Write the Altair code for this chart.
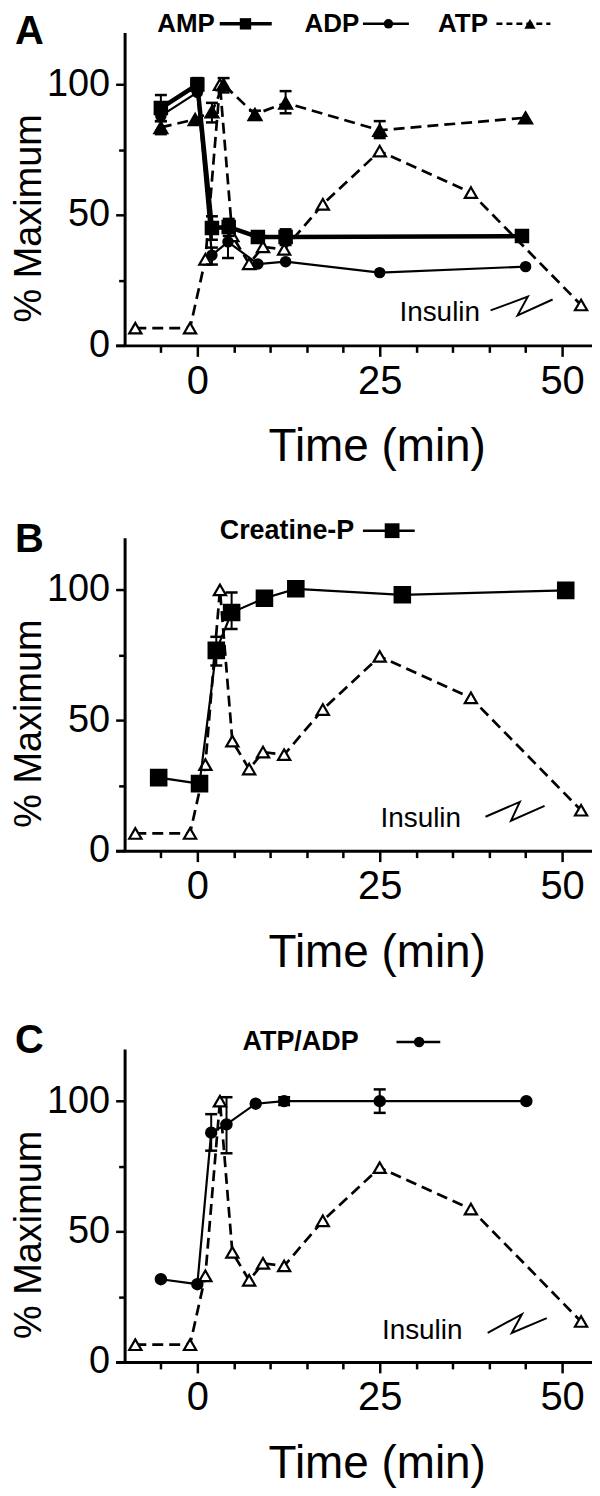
import altair as alt
import pandas as pd

FONT = "Liberation Sans"

# ---------------- data ----------------
# Insulin secretion (open triangles, dashed) - same trace in every panel
ins_t = [-8.5, -1.0, 1.1, 3.1, 4.8, 7.1, 9.0, 11.9, 17.2, 25.0, 37.5, 52.6]
ins_v = [6.6, 6.6, 33.0, 100.0, 42.0, 31.3, 37.8, 36.8, 54.1, 74.5, 58.6, 15.5]

# Panel A
amp_t = [-5.0, 0.0, 2.0, 4.3, 8.3, 12.1, 44.5]
amp_v = [91.0, 100.0, 45.0, 45.4, 41.6, 41.6, 41.9]
amp_err_t = [-5.0, 0.0, 2.0, 4.3, 12.1]
amp_lo = [86.0, 97.5, 40.5, 42.0, 38.5]
amp_hi = [96.0, 102.5, 49.5, 48.5, 44.5]

adp_t = [-5.0, 0.0, 2.0, 4.2, 8.3, 12.1, 25.0, 45.0]
adp_v = [88.0, 97.0, 34.6, 39.7, 31.2, 32.1, 27.9, 30.2]
adp_err_t = [2.0, 4.2]
adp_lo = [31.0, 33.5]
adp_hi = [37.5, 46.0]

atp_t = [-5.0, -0.3, 2.0, 3.6, 7.9, 12.1, 25.0, 45.0]
atp_v = [83.6, 86.7, 89.6, 100.0, 88.6, 93.0, 82.5, 87.3]
atp_err_t = [-5.0, 2.0, 3.6, 7.9, 12.1, 25.0]
atp_lo = [81.0, 85.5, 97.0, 86.5, 89.0, 79.5]
atp_hi = [86.0, 93.0, 102.5, 90.0, 97.5, 86.0]

# Panel B
cp_t = [-5.3, 0.3, 2.6, 4.7, 9.2, 13.5, 28.1, 50.5]
cp_v = [28.0, 25.7, 76.8, 91.3, 96.8, 100.4, 98.1, 99.8]
cp_err_t = [2.6, 4.7, 50.5]
cp_lo = [71.0, 85.0, 97.5]
cp_hi = [82.0, 99.0, 102.0]

# Panel C
ratio_t = [-5.0, 0.0, 1.9, 4.0, 8.0, 11.9, 25.0, 45.1]
ratio_v = [31.7, 29.8, 87.9, 91.1, 99.0, 100.0, 100.0, 100.0]
ratio_err_t = [1.9, 4.0, 11.9, 25.0]
ratio_lo = [81.0, 80.0, 98.5, 95.5]
ratio_hi = [95.0, 101.5, 101.5, 104.5]

# annotation texts / positions (data units)
panel_labels = ["A", "B", "C"]
panel_label_x = [-25.0, -25.0, -25.0]
panel_label_y = [120.0, 119.0, 123.0]

insulin_x = [27.7, 25.1, 25.3]
insulin_y = [9.2, 9.2, 8.8]
zig_A_t = [40.2, 45.3, 43.9, 48.7]
zig_A_v = [13.4, 18.7, 11.5, 17.6]
zig_B_t = [39.5, 44.2, 43.0, 47.6]
zig_B_v = [13.0, 18.7, 11.5, 17.2]
zig_C_t = [39.8, 44.5, 43.1, 47.9]
zig_C_v = [11.1, 18.3, 11.1, 16.8]

# ---------------- scales / axes ----------------
X_DOMAIN = [-11.2, 54.1]
Y_DOMAIN = [0, 120]
W, H = 478, 314

xs = alt.Scale(domain=X_DOMAIN, nice=False, zero=False)
ys = alt.Scale(domain=Y_DOMAIN, nice=False, zero=False)

xaxis = alt.Axis(
    title="Time (min)",
    values=list(range(-5, 55, 5)),
    labelExpr="datum.value % 25 === 0 ? datum.label : ''",
    tickSize={"condition": {"test": "datum.value % 25 === 0", "value": 11}, "value": 7},
    labelFontSize=40, labelPadding=5, labelFlush=False, labelOverlap=False,
    titleFontSize=46, titleFontWeight="normal",
    titleX=262, titleY=116, titleBaseline="alphabetic",
    grid=False, domainWidth=3, tickWidth=2.5,
)
yaxis = alt.Axis(
    title="% Maximum",
    values=[0, 25, 50, 75, 100],
    labelExpr="datum.value % 50 === 0 ? datum.label : ''",
    tickSize={"condition": {"test": "datum.value % 50 === 0", "value": 9}, "value": 6},
    labelFontSize=38, labelPadding=6, labelOverlap=False,
    titleFontSize=38, titleFontWeight="normal",
    titleAngle=270, titleX=-84, titleY=186, titleBaseline="alphabetic",
    offset=-9,
    grid=False, domainWidth=3, tickWidth=2.5,
)


def X(f):
    return alt.X(f, type="quantitative", scale=xs, axis=xaxis)


def Y(f):
    return alt.Y(f, type="quantitative", scale=ys, axis=yaxis)


def series(t, v, shape, size, lw, dash=None, fill="black", sw=1.5):
    df = pd.DataFrame({"t": t, "v": v})
    kw = dict(color="black", strokeWidth=lw)
    if dash:
        kw["strokeDash"] = dash
    line = alt.Chart(df).mark_line(**kw).encode(x=X("t"), y=Y("v"))
    pts = alt.Chart(df).mark_point(
        shape=shape, size=size, filled=True, fill=fill, stroke="black",
        strokeWidth=sw, opacity=1
    ).encode(x=X("t"), y=Y("v"))
    return [line, pts]


def errs(t, lo, hi):
    df = pd.DataFrame({"t": t, "lo": lo, "hi": hi})
    base = alt.Chart(df)
    r = base.mark_rule(color="black", strokeWidth=2).encode(
        x=X("t"), y=Y("lo"), y2="hi")
    c1 = base.mark_tick(orient="horizontal", size=12, thickness=2.5,
                        color="black", opacity=1).encode(x=X("t"), y=Y("lo"))
    c2 = base.mark_tick(orient="horizontal", size=12, thickness=2.5,
                        color="black", opacity=1).encode(x=X("t"), y=Y("hi"))
    return [r, c1, c2]


def text(labels, tx, ty, size, weight="normal", baseline="middle"):
    df = pd.DataFrame({"lab": labels, "t": tx, "v": ty})
    return alt.Chart(df).mark_text(
        align="left", baseline=baseline, font=FONT, fontSize=size,
        fontWeight=weight, color="black"
    ).encode(x=X("t"), y=Y("v"), text="lab:N")


def leg_line(x1, x2, yv, lw, dash=None):
    df = pd.DataFrame({"t": [x1], "t2": [x2], "v": [yv]})
    kw = dict(color="black", strokeWidth=lw)
    if dash:
        kw["strokeDash"] = dash
    return alt.Chart(df).mark_rule(**kw).encode(x=X("t"), x2="t2", y=Y("v"))


def leg_sym(xv, yv, shape, size):
    df = pd.DataFrame({"t": [xv], "v": [yv]})
    return alt.Chart(df).mark_point(shape=shape, size=size, filled=True,
                                    color="black", opacity=1).encode(
        x=X("t"), y=Y("v"))


def insulin(i, zt, zv):
    df = pd.DataFrame({"t": zt, "v": zv, "o": list(range(len(zt)))})
    zig = alt.Chart(df).mark_line(color="black", strokeWidth=2).encode(
        x=X("t"), y=Y("v"), order="o:Q")
    return [text(["Insulin"], [insulin_x[i]], [insulin_y[i]], 28,
                 baseline="alphabetic"), zig]


DASH = [11, 6]
LEG_A_Y = 123.3

# ---------------- panel A ----------------
layA = []
layA += series(ins_t, ins_v, "triangle-up", 150, 2.7, DASH, fill="white", sw=2.2)
layA += series(atp_t, atp_v, "triangle-up", 200, 2.7, DASH)
layA += errs(atp_err_t, atp_lo, atp_hi)
layA += series(adp_t, adp_v, "circle", 100, 2.2)
layA += errs(adp_err_t, adp_lo, adp_hi)
layA += series(amp_t, amp_v, "square", 170, 4.5)
layA += errs(amp_err_t, amp_lo, amp_hi)
layA += insulin(0, zig_A_t, zig_A_v)
layA += [
    text(["A"], [panel_label_x[0]], [panel_label_y[0]], 40, "bold"),
    text(["AMP", "ADP", "ATP"], [-5.5, 14.7, 33.0], [LEG_A_Y] * 3, 26, "bold"),
    leg_line(3.07, 10.2, LEG_A_Y, 3.5), leg_sym(6.6, LEG_A_Y, "square", 130),
    leg_line(22.7, 29.0, LEG_A_Y, 2.5), leg_sym(26.2, LEG_A_Y, "circle", 90),
    leg_line(41.0, 48.4, LEG_A_Y, 2.5, [6, 4]), leg_sym(45.6, LEG_A_Y, "triangle-up", 130),
]
panelA = alt.layer(*layA).properties(width=W, height=H)

# ---------------- panel B ----------------
layB = []
layB += series(ins_t, ins_v, "triangle-up", 150, 2.7, DASH, fill="white", sw=2.2)
layB += series(cp_t, cp_v, "square", 260, 2.2)
layB += errs(cp_err_t, cp_lo, cp_hi)
layB += insulin(1, zig_B_t, zig_B_v)
layB += [
    text(["B"], [panel_label_x[1]], [panel_label_y[1]], 40, "bold"),
    text(["Creatine-P"], [3.07], [122.7], 27, "bold"),
    leg_line(22.7, 29.8, 122.7, 2.5), leg_sym(26.7, 122.7, "square", 220),
]
panelB = alt.layer(*layB).properties(width=W, height=H)

# ---------------- panel C ----------------
layC = []
layC += series(ins_t, ins_v, "triangle-up", 150, 2.7, DASH, fill="white", sw=2.2)
layC += series(ratio_t, ratio_v, "circle", 120, 2.2)
layC += errs(ratio_err_t, ratio_lo, ratio_hi)
layC += insulin(2, zig_C_t, zig_C_v)
layC += [
    text(["C"], [panel_label_x[2]], [panel_label_y[2]], 40, "bold"),
    text(["ATP/ADP"], [6.2], [122.7], 27, "bold"),
    leg_line(27.3, 33.3, 122.7, 2.5), leg_sym(30.4, 122.7, "circle", 110),
]
panelC = alt.layer(*layC).properties(width=W, height=H)

chart = (
    alt.vconcat(panelA, panelB, panelC, spacing=46)
    .properties(padding={"left": 3, "top": 0, "right": 0, "bottom": 0},
                background="white")
    .configure_view(stroke=None)
    .configure_axis(
        labelFont=FONT, titleFont=FONT, labelColor="black", titleColor="black",
        domainColor="black", tickColor="black",
    )
)

chart.save("out.html", embed_options={"renderer": "svg", "actions": False})
